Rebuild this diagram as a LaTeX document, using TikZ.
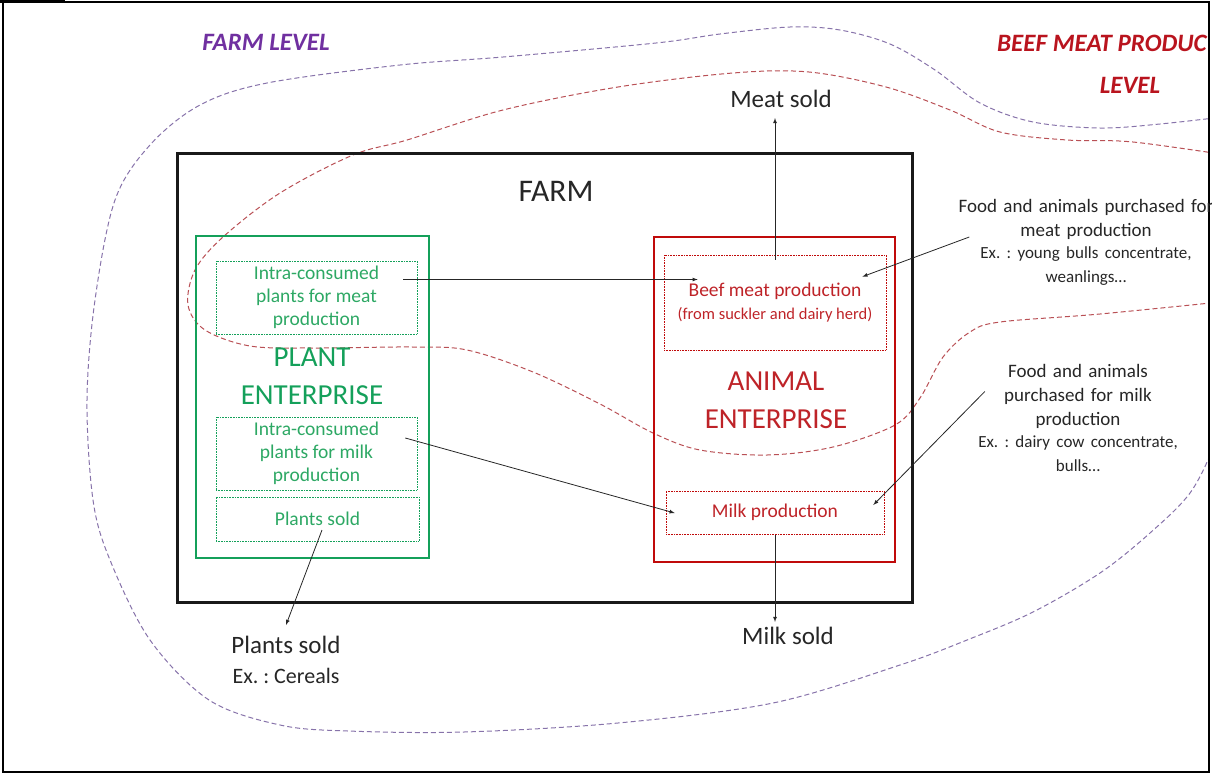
\documentclass[tikz,border=0pt]{standalone}
\usepackage{fontspec}
\setmainfont{Carlito}
\usepackage{xcolor}
\usepackage{tikz}
\usetikzlibrary{arrows}
\usetikzlibrary{calc}
\frenchspacing

\definecolor{plantgreen}{RGB}{20,160,90}
\definecolor{planttext}{RGB}{45,168,100}
\definecolor{animalred}{RGB}{192,10,10}
\definecolor{animaltext}{RGB}{190,35,40}
\definecolor{farmpurple}{RGB}{112,48,160}
\definecolor{levelred}{RGB}{185,20,30}
\definecolor{farmline}{RGB}{135,115,170}
\definecolor{beefline}{RGB}{185,80,85}

\newcommand{\fsfarm}{\fontsize{31.5}{36}\selectfont}
\newcommand{\fslevel}{\fontsize{25}{30}\selectfont}
\newcommand{\fsent}{\fontsize{29}{38}\selectfont}
\newcommand{\fssub}{\fontsize{19.5}{23}\selectfont}
\newcommand{\fsnote}{\fontsize{16.5}{22}\selectfont}
\newcommand{\fsout}{\fontsize{25}{30}\selectfont}
\newcommand{\fsex}{\fontsize{22}{30}\selectfont}
\newcommand{\fsbuy}{\fontsize{19}{24}\selectfont}
\newcommand{\fsbuyex}{\fontsize{17}{22}\selectfont}

\tikzset{
  farmbox/.style={draw=black!90, line width=3pt, inner sep=0pt},
  entbox/.style={line width=2pt, inner sep=0pt},
  subbox/.style={densely dotted, line width=0.6pt, inner sep=0pt, align=center},
  arr/.style={-latex, line width=0.8pt, black!85},
  lvl/.style={dash pattern=on 5pt off 3pt, line width=1pt},
  lbl/.style={inner sep=0pt, align=center, text=black!85},
}

\begin{document}
\begin{tikzpicture}[x=1pt,y=-1pt]
    \useasboundingbox (0,0) rectangle (1212,774);
    \begin{scope}
      \clip (3,2) rectangle (1209,772);
      \draw[lvl, farmline] plot[smooth, tension=0.55] coordinates {
        (1240,115) (1160,124) (1100,128) (1033,122) (980,103) (935,70)
        (890,44) (840,30) (790,27) (720,34) (656,43) (503,57) (400,65)
        (267,83) (200,105) (150,145) (115,200) (95,300) (87,400) (93,500)
        (110,560) (150,640) (209,700) (280,725) (348,731) (464,732)
        (618,723) (773,703) (900,665) (967,640) (1033,612) (1100,573)
        (1150,533) (1190,493) (1215,445) (1235,400)};
      \draw[lvl, beefline] plot[smooth, tension=0.55] coordinates {
        (1240,157) (1133,142) (1067,140) (1000,132) (950,110) (886,87)
        (809,72) (733,73) (618,87) (503,110) (407,140) (353,155) (280,193)
        (223,237) (195,270) (188,305) (205,330) (250,346) (313,348)
        (413,347) (467,350) (533,372) (600,404) (653,433) (700,450)
        (767,455) (833,447) (895,425) (920,398) (943,357) (970,332)
        (1000,322) (1100,314) (1240,300)};
    \end{scope}
    \draw[line width=1.2pt] (3,2) rectangle (1209,772);
    \draw[line width=3pt] (0,1) -- (65,1);
    %
    \node[inner sep=0pt, font=\fslevel\bfseries\itshape, text=farmpurple] (farmlvl) at (266,42) {FARM LEVEL};
    \node[inner sep=0pt, anchor=west, font=\fslevel\bfseries\itshape, text=levelred] (beeflvl) at (997,43) {BEEF MEAT PRODUC};
    \node[inner sep=0pt, font=\fslevel\bfseries\itshape, text=levelred] (beeflvlb) at (1130,85) {LEVEL};
    %
    \node[farmbox, minimum width=735pt, minimum height=449pt] (farm) at (544.5,377.5) {};
    \node[lbl, font=\fsfarm] (farmlbl) at (556,191) {FARM};
    %
    \node[entbox, draw=plantgreen, minimum width=233pt, minimum height=322pt] (plant) at (312.5,397) {};
    \node[lbl, font=\fsent, text=plantgreen] (plantttl) at (312,376) {PLANT\\ENTERPRISE};
    \node[subbox, draw=plantgreen, text=planttext, font=\fssub, minimum width=201pt, minimum height=73pt] (meatin) at (316.5,297.5) {Intra-consumed\\plants for meat\\production};
    \node[subbox, draw=plantgreen, text=planttext, font=\fssub, minimum width=201pt, minimum height=73pt] (milkin) at (316.5,453.5) {Intra-consumed\\plants for milk\\production};
    \node[subbox, draw=plantgreen, text=planttext, font=\fssub, minimum width=203pt, minimum height=44pt] (soldin) at (317.5,519) {Plants sold};
    %
    \node[entbox, draw=animalred, minimum width=241pt, minimum height=325pt] (animal) at (774.5,399.5) {};
    \node[lbl, font=\fsent, text=animaltext] (animalttl) at (776,400) {ANIMAL\\ENTERPRISE};
    \node[subbox, draw=animalred, text=animaltext, font=\fssub, minimum width=222pt, minimum height=95pt] (beef) at (775,302.5) {Beef meat production\\\fsnote (from suckler and dairy herd)};
    \node[subbox, draw=animalred, text=animaltext, font=\fssub, minimum width=218pt, minimum height=43pt] (milkprod) at (775,512.5) {Milk production};
    %
    \node[lbl, font=\fsout, anchor=south] (meatsold) at (781,108) {Meat sold};
    \node[lbl, font=\fsout, anchor=north] (milksold) at (788,627) {Milk sold};
    \node[lbl, font=\fsout, anchor=north] (plantsold) at (286,636) {Plants sold\\\fsex Ex. : Cereals};
    \node[lbl, font=\fsbuy, text width=265pt] (foodmeat) at (1086,242) {Food and animals purchased for\\meat production\\\fsbuyex Ex. : young bulls concentrate,\\weanlings…};
    \node[lbl, font=\fsbuy, text width=220pt] (foodmilk) at (1078,418) {Food and animals\\purchased for milk\\production\\\fsbuyex Ex. : dairy cow concentrate,\\bulls…};
    %
    \draw[arr] ($(beef.north)+(0,5)$) -- ($(beef.north |- meatsold.south)+(0,10)$);
    \draw[arr] ($(meatin.east)+(-14,-18)$) -- ($(beef.west)+(34,-23)$);
    \draw[arr] ($(foodmeat.west)+(16,-5)$) -- ($(beef.north east)+(-24,22)$);
    \draw[arr] ($(milkin.east)+(-12,-15.5)$) -- ($(milkprod.west)+(9,0.5)$);
    \draw[arr] ($(foodmilk.west)+(17,-26.5)$) -- ($(milkprod.east)+(-11,-7.5)$);
    \draw[arr] ($(soldin.center)+(4.5,11)$) -- ($(plantsold.north)+(0,-11)$);
    \draw[arr] ($(milkprod.south)+(0,1)$) -- ($(milkprod.south |- milksold.north)+(0,-5)$);
\end{tikzpicture}
\end{document}
